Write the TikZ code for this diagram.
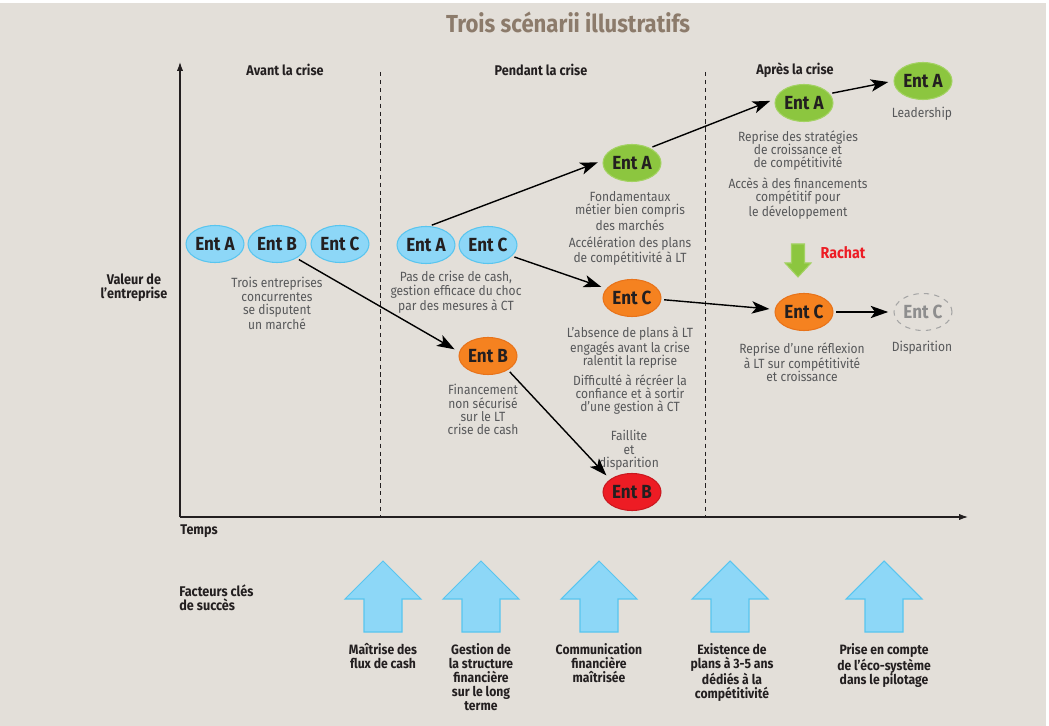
\documentclass[tikz,border=0pt]{standalone}
\usepackage{fontspec}
\setmainfont{Fira Sans}[FakeStretch=0.9]
\usetikzlibrary{arrows.meta, shapes.geometric, positioning}

\definecolor{fond}{HTML}{E3DFD9}
\definecolor{bleu}{HTML}{8DD7F7}
\definecolor{bleubord}{HTML}{58C5EF}
\definecolor{vert}{HTML}{8CC63F}
\definecolor{vertclair}{HTML}{A3D262}
\definecolor{orange}{HTML}{F58220}
\definecolor{orangebord}{HTML}{E8731A}
\definecolor{rouge}{HTML}{ED1C24}
\definecolor{noir}{HTML}{231F20}
\definecolor{gristexte}{HTML}{57585A}
\definecolor{gris}{HTML}{8E8E8E}
\definecolor{titre}{HTML}{8C7B6B}

\begin{document}
\begin{tikzpicture}[x=0.02cm, y=-0.02cm,
    every node/.style={inner sep=0pt},
    ent/.style={ellipse, minimum width=1.16cm, minimum height=0.74cm, font=\fontsize{10.8}{11}\selectfont\bfseries, text=noir},
    entbleu/.style={ent, fill=bleu, draw=bleubord, line width=0.6pt},
    entvert/.style={ent, fill=vert, draw=vertclair, line width=0.6pt},
    entorange/.style={ent, fill=orange, draw=orangebord, line width=0.6pt},
    entrouge/.style={ent, fill=rouge, draw=rouge!85!black, line width=0.6pt},
    entfantome/.style={ent, draw=gris!80, dashed, line width=0.6pt, text=gris},
    legende/.style={align=center, anchor=north, text=gristexte, font=\fontsize{7.6}{7.6}\selectfont},
    gras/.style={align=center, text=noir, font=\fontsize{8}{8.2}\selectfont\bfseries},
    facteur/.style={align=center, anchor=north, text=noir, font=\fontsize{7.7}{8}\selectfont\bfseries},
    fleche/.style={-{Stealth[length=10pt, width=7pt, inset=2.5pt]}, line width=0.8pt, shorten <=1.5pt, shorten >=3pt},
    bloc/.style={fill=bleu, draw=bleubord, line width=0.6pt},
    separation/.style={dash pattern=on 2.5pt off 2pt, line width=0.5pt, noir}]

    \useasboundingbox (0,0) rectangle (1049,726);
    \fill[white] (0,0) rectangle (1049,726);
    \fill[fond] (0,3) rectangle (1046,726);

    % titre
    \node[font=\fontsize{14}{14}\selectfont\bfseries, text=titre] (titre) at (568,22) {Trois scénarii illustratifs};

    % axes et periodes
    \coordinate (origine) at (180,517);
    \coordinate (haut) at (180,62);
    \coordinate (droite) at (968,517);
    \draw[-{Latex[length=5pt, width=3.5pt]}, line width=0.6pt, noir] (origine) -- (haut);
    \draw[-{Latex[length=5pt, width=3.5pt]}, line width=0.6pt, noir] (origine) -- (droite);
    \draw[separation] (380,72) -- (380,517);
    \draw[separation] (705,72) -- (705,517);

    \node[gras] (avant) at (285,70) {Avant la crise};
    \node[gras] (pendant) at (541,70) {Pendant la crise};
    \node[gras] (apres) at (795,70) {Après la crise};
    \node[gras] (valeur) at (134,288) {Valeur de\\l’entreprise};
    \node[gras, anchor=west] (temps) at (180,531) {Temps};
    \node[gras, align=left, anchor=west] (facteurs) at (179,598) {Facteurs clés\\de succès};

    % avant la crise
    \node[entbleu] (avA) at (215,244) {Ent A};
    \node[entbleu] (avB) at (277,244) {Ent B};
    \node[entbleu] (avC) at (340,244) {Ent C};
    \node[legende] (lavant) at (277,277) {Trois entreprises\\concurrentes\\se disputent\\un marché};

    % pendant la crise
    \node[entbleu] (peA) at (426,245) {Ent A};
    \node[entbleu] (peC) at (488,245) {Ent C};
    \node[legende] (lpendant) at (456,271) {Pas de crise de cash,\\gestion efficace du choc\\par des mesures à CT};

    \node[entvert] (gA) at (632,163) {Ent A};
    \node[legende] (lgA) at (630,191) {Fondamentaux\\métier bien compris\\des marchés};
    \node[legende] (lgA2) at (630,236) {Accélération des plans\\de compétitivité à LT};

    \node[entorange] (oC) at (632,298) {Ent C};
    \node[legende] (loC) at (630,326) {L’absence de plans à LT\\engagés avant la crise\\ralentit la reprise};
    \node[legende] (loC2) at (630,374) {Difficulté à récréer la\\confiance et à sortir\\d’une gestion à CT};

    \node[entorange] (oB) at (488,356) {Ent B};
    \node[legende] (loB) at (483,384) {Financement\\non sécurisé\\sur le LT\\crise de cash};

    \node[legende] (faillite) at (629,430) {Faillite\\et\\disparition};
    \node[entrouge] (rB) at (632,492) {Ent B};

    % apres la crise
    \node[entvert] (apA) at (804,103) {Ent A};
    \node[legende] (lapA) at (798,130) {Reprise des stratégies\\de croissance et\\de compétitivité};
    \node[legende] (lapA2) at (798,177) {Accès à des financements\\compétitif pour\\le développement};

    \node[entvert] (leA) at (923,81) {Ent A};
    \node[legende] (leadership) at (922,107) {Leadership};

    \draw[fill=vert, draw=vertclair, line width=0.6pt] (791.5,244) -- (804.5,244) -- (804.5,263) -- (811,263) -- (798,277) -- (785,263) -- (791.5,263) -- cycle;
    \node[font=\fontsize{9}{9}\selectfont\bfseries, text=rouge] (rachat) at (843,253) {Rachat};

    \node[entorange] (apC) at (804,312) {Ent C};
    \node[legende] (lapC) at (802,342) {Reprise d’une réflexion\\à LT sur compétitivité\\et croissance};

    \node[entfantome] (dC) at (923,312) {Ent C};
    \node[legende] (disparition) at (922,341) {Disparition};

    % trajectoires
    \draw[fleche] (avB.-36) -- (oB.172);
    \draw[fleche] (peA.80) -- (gA.175);
    \draw[fleche] (peC.-25) -- (oC.160);
    \draw[fleche] (oB.-35) -- (rB.150);
    \draw[fleche] (gA.40) -- (apA.172);
    \draw[fleche] (apA.20) -- (leA.180);
    \draw[fleche] (oC.-3) -- (apC.175);
    \draw[fleche] (apC.0) -- (dC.180);

    % facteurs cles de succes
    \foreach \x in {383,481,599,730,884}
        \draw[bloc] (\x,561) -- ++(38,38) -- ++(-19,0) -- ++(0,33) -- ++(-38,0) -- ++(0,-33) -- ++(-19,0) -- cycle;

    \node[facteur] (fcash) at (383,643) {Maîtrise des\\flux de cash};
    \node[facteur] (fstructure) at (481,643) {Gestion de\\la structure\\financière\\sur le long\\terme};
    \node[facteur] (fcomm) at (599,643) {Communication\\financière\\maîtrisée};
    \node[facteur] (fplans) at (732,643) {Existence de\\plans à 3-5 ans\\dédiés à la\\compétitivité};
    \node[facteur] (fecosys) at (884,643) {Prise en compte\\de l’éco-système\\dans le pilotage};
\end{tikzpicture}
\end{document}
